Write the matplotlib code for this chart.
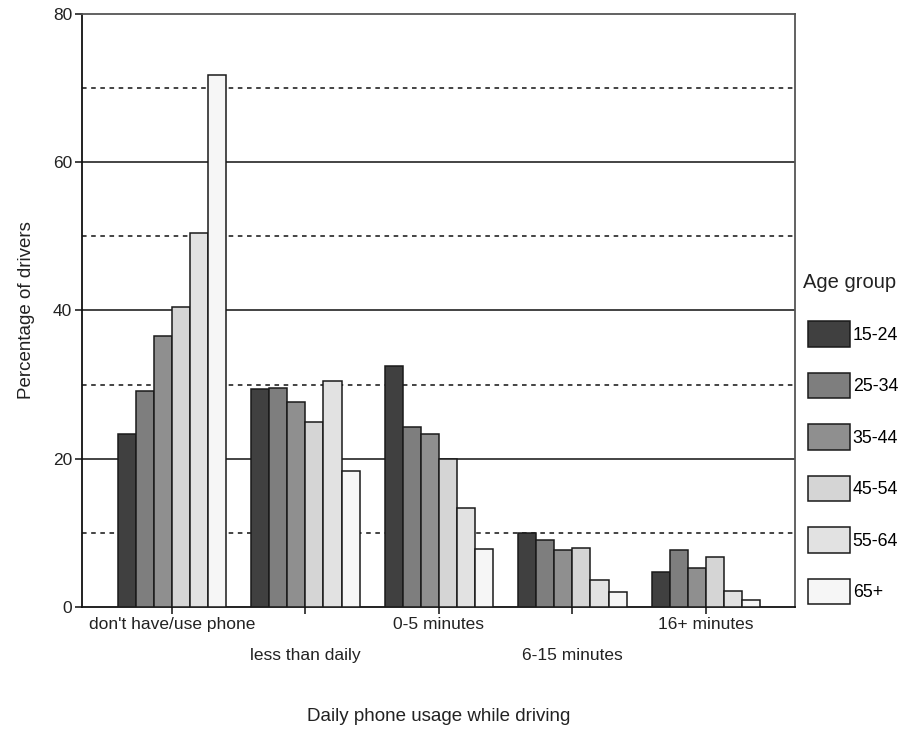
import matplotlib.pyplot as plt
import numpy as np
from matplotlib.patches import Rectangle

plt.rcParams['font.family'] = ['Liberation Sans', 'DejaVu Sans']

categories = ["don't have/use phone", 'less than daily', '0-5 minutes', '6-15 minutes', '16+ minutes']
age_groups = ['15-24', '25-34', '35-44', '45-54', '55-64', '65+']
values = {
    '15-24': [23.3, 29.4, 32.5, 10.0, 4.7],
    '25-34': [29.2, 29.6, 24.3, 9.1, 7.7],
    '35-44': [36.5, 27.7, 23.3, 7.7, 5.3],
    '45-54': [40.5, 25.0, 20.0, 7.9, 6.7],
    '55-64': [50.4, 30.5, 13.4, 3.7, 2.1],
    '65+':   [71.8, 18.4, 7.8, 2.0, 0.9],
}
colors = ['#404040', '#7e7e7e', '#8f8f8f', '#d5d5d5', '#e2e2e2', '#f6f6f6']

W, H = 902, 731
fig = plt.figure(figsize=(W / 100, H / 100), dpi=100)
ax = fig.add_axes([82 / W, 1 - 607 / H, (795 - 82) / W, (607 - 14) / H])

x = np.arange(len(categories))
w = 0.135
for j, g in enumerate(age_groups):
    ax.bar(x + (j - 2.5) * w, values[g], width=w, color=colors[j],
           edgecolor='#1a1a1a', linewidth=1.1, zorder=3)

# grid lines
for yv in [20, 40, 60]:
    ax.axhline(yv, color='#111111', lw=1.1, zorder=1)
for yv in [10, 30, 50, 70]:
    ax.axhline(yv, color='#111111', lw=1.1, ls=(0, (3, 3)), zorder=1)

ax.set_xlim(-0.674, 4.667)
ax.set_ylim(0, 80)
ax.set_yticks([0, 20, 40, 60, 80])
ax.tick_params(axis='y', labelsize=12.5, length=5, width=1.2, pad=2, colors='#222222')
ax.set_xticks(x)
ax.set_xticklabels(categories)
ax.tick_params(axis='x', labelsize=12.5, length=5, width=1.2, pad=2, colors='#222222')
for i, lab in enumerate(ax.get_xticklabels()):
    if i % 2 == 1:
        lab.set_y(-0.053)

for s in ['left', 'bottom']:
    ax.spines[s].set_color('#111111')
    ax.spines[s].set_linewidth(1.3)
for s in ['top', 'right']:
    ax.spines[s].set_color('#555555')
    ax.spines[s].set_linewidth(1.3)

ax.set_xlabel('Daily phone usage while driving', fontsize=13.5, labelpad=32, color='#222222')
ax.set_ylabel('Percentage of drivers', fontsize=13.5, labelpad=13, color='#222222')

fig.text(803 / W, 1 - 283 / H, 'Age group', fontsize=14.5, color='#222222',
         ha='left', va='center')
handles = [Rectangle((0, 0), 1, 1, facecolor=c, edgecolor='#1a1a1a', lw=1.1) for c in colors]
leg = fig.legend(handles, age_groups, loc='upper left', bbox_to_anchor=(801 / W, 1 - 314 / H),
                 frameon=False, fontsize=12.8,
                 handlelength=2.36, handleheight=1.85, labelspacing=1.45, handletextpad=0.15,
                 borderaxespad=0)

fig.savefig('out.png', dpi=100)
